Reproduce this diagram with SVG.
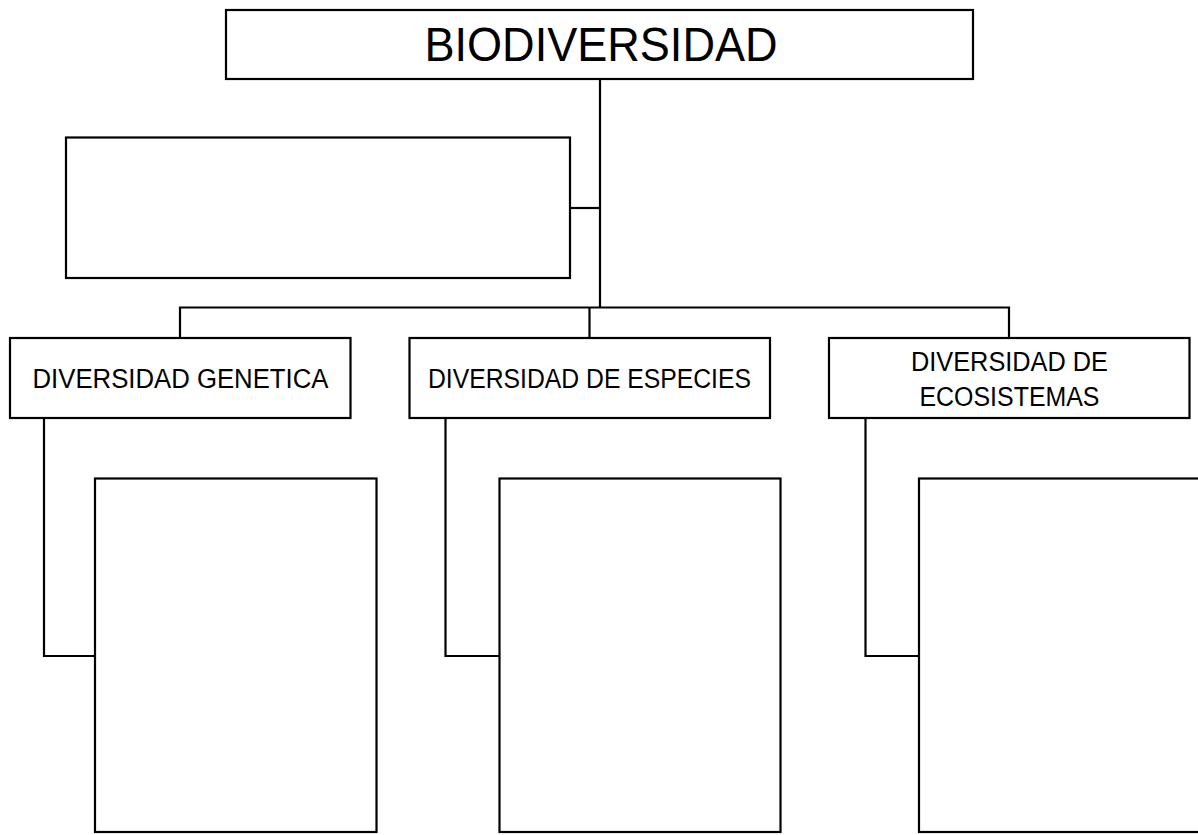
<svg xmlns="http://www.w3.org/2000/svg" width="1198" height="835" viewBox="0 0 1198 835">
<style>
.box{fill:#fff;stroke:#000;stroke-width:2.2}
.ln{fill:none;stroke:#000;stroke-width:2.2}
.t{font-family:"Liberation Sans",Arial,sans-serif;fill:#000;text-anchor:middle}
</style>
<rect width="1198" height="835" fill="#fff"/>
<g id="connectors">
<path class="ln" d="M600,79 V307.5"/>
<path class="ln" d="M570,208 H600"/>
<path class="ln" d="M180,338 V307.5 H1009 V338"/>
<path class="ln" d="M589.5,307.5 V338"/>
<path class="ln" d="M44,418 V656 H95"/>
<path class="ln" d="M445.5,418 V656 H499.5"/>
<path class="ln" d="M865.5,418 V656 H919"/>
</g>
<g id="biodiversidad">
<rect class="box" x="226" y="10" width="747" height="69"/>
<text class="t" x="601" y="61" font-size="48" textLength="353" lengthAdjust="spacingAndGlyphs">BIODIVERSIDAD</text>
</g>
<g id="definicion">
<rect class="box" x="66" y="137.5" width="504" height="140.5"/>
</g>
<g id="genetica">
<rect class="box" x="10" y="338" width="340.5" height="80"/>
<text class="t" x="180.5" y="388" font-size="27" textLength="296" lengthAdjust="spacingAndGlyphs">DIVERSIDAD GENETICA</text>
</g>
<g id="especies">
<rect class="box" x="409.5" y="338" width="360.5" height="80"/>
<text class="t" x="589.5" y="388" font-size="27" textLength="323" lengthAdjust="spacingAndGlyphs">DIVERSIDAD DE ESPECIES</text>
</g>
<g id="ecosistemas">
<rect class="box" x="829" y="338" width="360.5" height="80"/>
<text class="t" x="1009.5" y="370.5" font-size="27" textLength="197" lengthAdjust="spacingAndGlyphs">DIVERSIDAD DE</text>
<text class="t" x="1009.5" y="406" font-size="27" textLength="180" lengthAdjust="spacingAndGlyphs">ECOSISTEMAS</text>
</g>
<g id="genetica-detalle">
<rect class="box" x="95" y="478.5" width="281.5" height="353.5"/>
</g>
<g id="especies-detalle">
<rect class="box" x="499.5" y="478.5" width="281" height="353.5"/>
</g>
<g id="ecosistemas-detalle">
<rect class="box" x="919" y="478.5" width="285" height="353.5"/>
</g>
</svg>
